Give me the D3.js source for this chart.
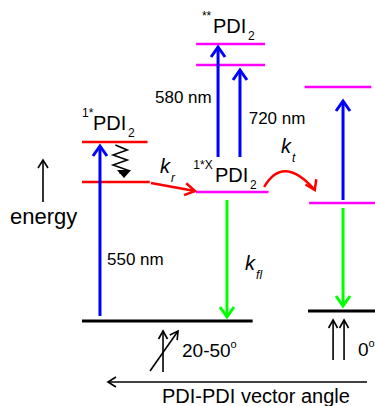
<!DOCTYPE html>
<html>
<head>
<meta charset="utf-8">
<script src="https://cdn.jsdelivr.net/npm/d3@7"></script>
<style>
  body { margin: 0; background: #fff; }
  text { font-family: "Liberation Sans", Arial, sans-serif; fill: #000; }
</style>
</head>
<body>
<div id="graf"></div>
<script>
// Diagrama de niveles de energia PDI2

// niveles: energia (unidades arbitrarias, suelo = 0), columna inicio/fin, tipo
levelE     = [0, 139, 179, 129, 256, 277, 10, 118, 234]
levelFrom  = [0, 0, 0, 1.01, 1.01, 1.01, 2.0, 2.01, 1.97]
levelTo    = [1.51, 0.6, 0.58, 1.65, 1.62, 1.62, 2.6, 2.6, 2.56]
levelKind  = ['ground', 'mono', 'mono', 'exc', 'exc', 'exc', 'ground', 'exc', 'exc']

// transiciones verticales: columna, energia inicial, energia final, tipo
transCol   = [0.159, 1.204, 1.398, 2.31, 1.283, 2.31]
transFrom  = [5, 164, 164, 121, 121, 113]
transTo    = [175, 274, 251, 220, 4, 15]
transKind  = ['abs', 'abs', 'abs', 'abs', 'fl', 'fl']

// etiquetas de longitud de onda
nmLabels   = ['550 nm', '580 nm', '720 nm']
nmCol      = [0.221, 0.646, 1.475]
nmE        = [56, 218, 197]

// estados
stateSup   = ['1*', '**', '1*X']
stateCol   = [0.097, 1.159, 1.177]
stateE     = [191, 288, 139]

angleLabels = ['20-50', '0']
axisLabel   = 'PDI-PDI vector angle'

graf = d3.select('#graf')
ancho_total = 375
alto_total  = 406

svg = graf.append('svg')
          .attr('width', ancho_total)
          .attr('height', alto_total)

x = d3.scaleLinear().domain([0, 3]).range([82, 421])
y = d3.scaleLinear().domain([0, 300]).range([321, 21])

color = d3.scaleOrdinal()
          .domain(['ground', 'mono', 'exc', 'abs', 'fl', 'rate', 'black'])
          .range(['#000000', '#ff0000', '#ff00ff', '#0000ff', '#00ff00', '#ff0000', '#000000'])

// punta de flecha abierta
function head(px, py, ang, len, half, c, w) {
  p = d3.path()
  ca = Math.cos(ang), sa = Math.sin(ang)
  p.moveTo(px - len * ca - half * sa, py - len * sa + half * ca)
  p.lineTo(px, py)
  p.lineTo(px - len * ca + half * sa, py - len * sa - half * ca)
  svg.append('path')
    .attr('d', p.toString())
    .attr('fill', 'none')
    .attr('stroke', c)
    .attr('stroke-width', w)
    .attr('stroke-linejoin', 'miter')
}

function arrow(x1, y1, x2, y2, c, w, len, half) {
  svg.append('line')
    .attr('x1', x1).attr('y1', y1)
    .attr('x2', x2).attr('y2', y2)
    .attr('stroke', c)
    .attr('stroke-width', w)
  head(x2, y2, Math.atan2(y2 - y1, x2 - x1), len, half, c, w)
}

// niveles
levelE.forEach((e, i) => {
  svg.append('line')
    .attr('x1', x(levelFrom[i]))
    .attr('x2', x(levelTo[i]))
    .attr('y1', y(e))
    .attr('y2', y(e))
    .attr('stroke', color(levelKind[i]))
    .attr('stroke-width', levelKind[i] == 'ground' ? 3 : 2.5)
})

// transiciones
transCol.forEach((c, i) => {
  arrow(x(c), y(transFrom[i]), x(c), y(transTo[i]), color(transKind[i]), 3, 10, 7)
})

// relajacion (zigzag)
zz = [[176, 0.295], [171, 0.4], [166, 0.275], [161, 0.4], [156, 0.275], [151, 0.4], [148, 0.33]]
svg.append('path')
  .attr('d', d3.line().x(d => x(d[1])).y(d => y(d[0]))(zz))
  .attr('fill', 'none')
  .attr('stroke', '#000')
  .attr('stroke-width', 1.6)
svg.append('path')
  .attr('d', d3.line()([[x(0.31), y(151)], [x(0.435), y(151)], [x(0.372), y(143)]]) + 'Z')
  .attr('fill', '#000')

// k_r
arrow(x(0.61), y(138), x(1.0), y(130), color('rate'), 2.5, 10, 6)

// k_t curva
kt = d3.path()
kt.moveTo(x(1.612), y(134))
kt.quadraticCurveTo(x(1.78), y(167), x(2.06), y(131))
svg.append('path')
  .attr('d', kt.toString())
  .attr('fill', 'none')
  .attr('stroke', color('rate'))
  .attr('stroke-width', 2.5)
head(x(2.06), y(131), Math.atan2(y(131) - y(145), x(2.06) - x(2.0)), 9, 6, color('rate'), 2.5)

// flecha de energia
arrow(43, y(119), 43, y(161), '#000', 1.6, 8, 5)
svg.append('text')
  .attr('x', 10).attr('y', 224)
  .attr('font-size', '22px')
  .text('energy')

// etiquetas nm
nmLabels.forEach((t, i) => {
  svg.append('text')
    .attr('x', x(nmCol[i]))
    .attr('y', y(nmE[i]))
    .attr('font-size', '17px')
    .text(t)
})

// estados PDI2
stateSup.forEach((s, i) => {
  px = x(stateCol[i])
  py = y(stateE[i])
  svg.append('text').attr('x', px - 11).attr('y', py - 13)
    .attr('font-size', '12px').attr('text-anchor', s.length > 2 ? 'middle' : 'start')
    .attr('dx', s.length > 2 ? -1 : 0)
    .text(s)
  svg.append('text').attr('x', px).attr('y', py)
    .attr('font-size', '20px').text('PDI')
  svg.append('text').attr('x', px + 35).attr('y', py + 7)
    .attr('font-size', '12px').text('2')
})

// constantes de velocidad
function rate(px, py, sub) {
  svg.append('text').attr('x', px).attr('y', py)
    .attr('font-size', '20px').attr('font-style', 'italic').text('k')
  svg.append('text').attr('x', px + 11).attr('y', py + 9)
    .attr('font-size', '12px').attr('font-style', 'italic').text(sub)
}
rate(x(0.69), y(148), 'r')
rate(x(1.76), y(168), 't')
rate(x(1.443), y(51), 'fl')

// simbolos de angulo
arrow(x(0.717), y(-51), x(0.717), y(-10), '#000', 1.6, 8, 4.5)
arrow(x(0.602), y(-50), x(0.85), y(-10), '#000', 1.6, 8, 4.5)
arrow(x(2.222), y(-39), x(2.222), y(1), '#000', 1.6, 8, 4.5)
arrow(x(2.319), y(-39), x(2.319), y(1), '#000', 1.6, 8, 4.5)

a1 = svg.append('text').attr('x', x(0.885)).attr('y', y(-36)).attr('font-size', '19px')
a1.append('tspan').text(angleLabels[0])
a1.append('tspan').attr('font-size', '11px').attr('dy', -9).text('o')
a2 = svg.append('text').attr('x', x(2.442)).attr('y', y(-35)).attr('font-size', '19px')
a2.append('tspan').text(angleLabels[1])
a2.append('tspan').attr('font-size', '11px').attr('dy', -9).text('o')

// eje horizontal
arrow(x(2.522), y(-61), x(0.23), y(-61), '#000', 1.6, 8, 5)
svg.append('text')
  .attr('x', x(0.708)).attr('y', y(-82))
  .attr('font-size', '20px')
  .text(axisLabel)
</script>
</body>
</html>
